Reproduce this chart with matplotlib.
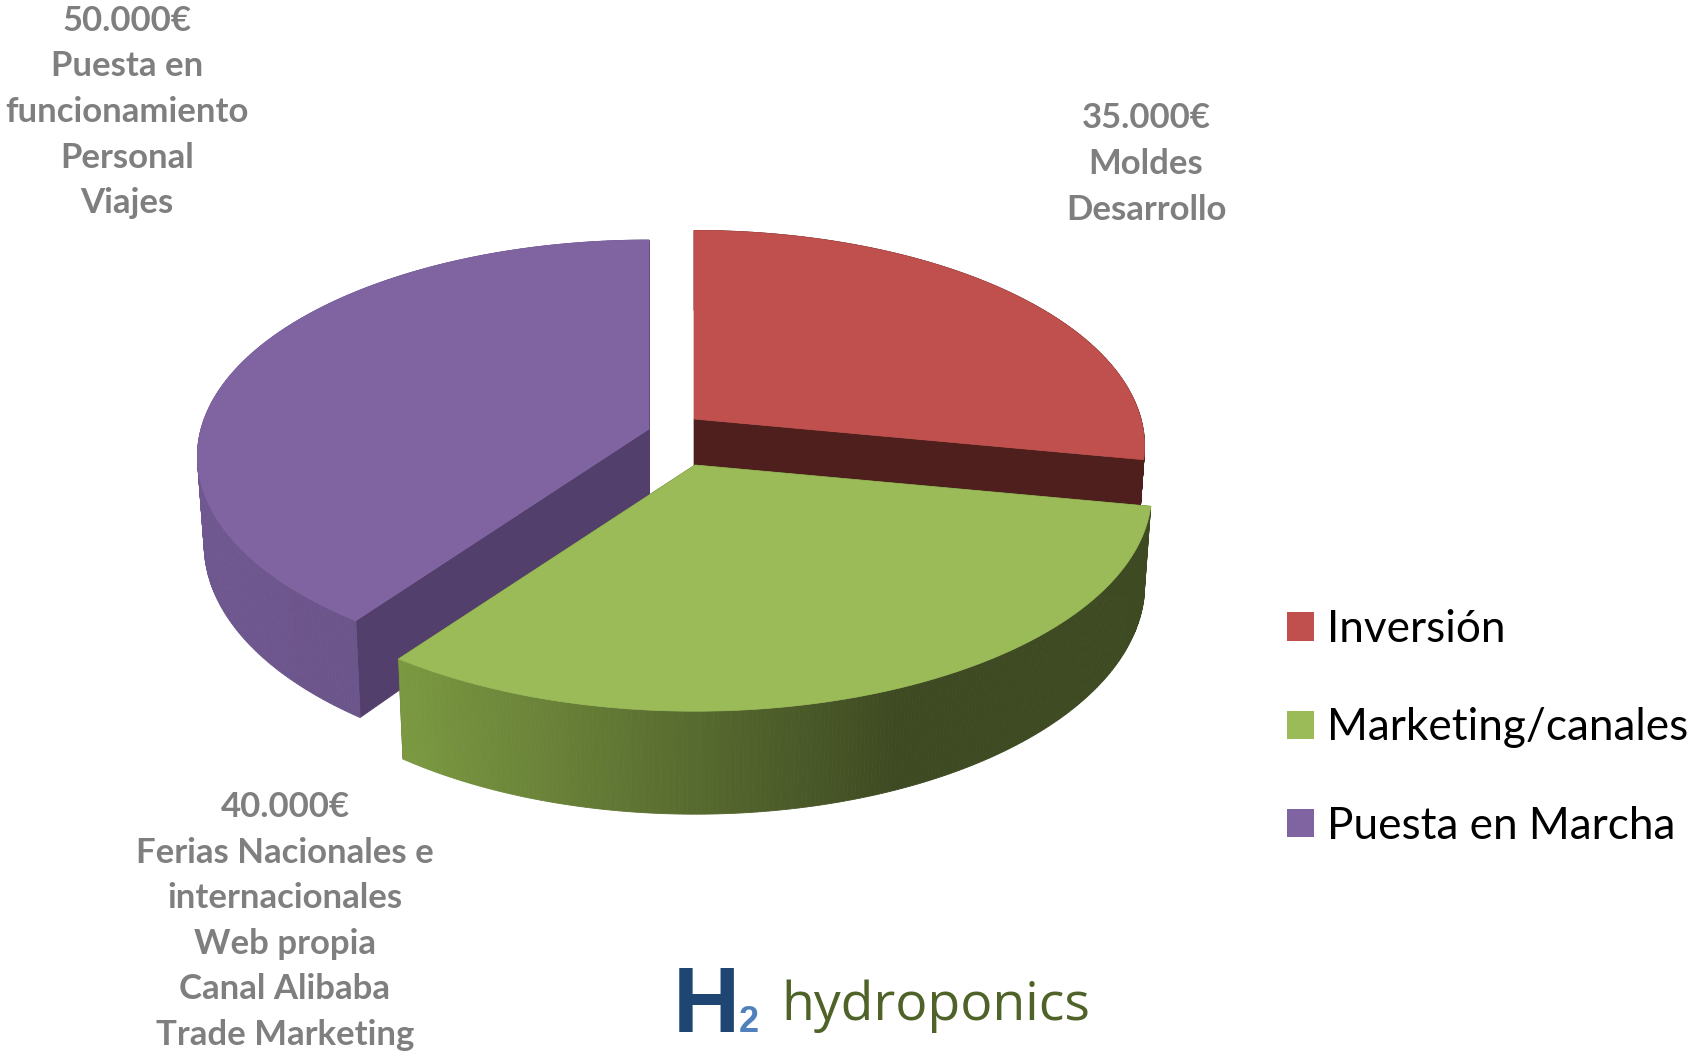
import numpy as np
import matplotlib
matplotlib.use("Agg")
import matplotlib.colors as mcolors
import matplotlib.pyplot as plt
from matplotlib.patches import Patch

categories = ["Inversión", "Marketing/canales", "Puesta en Marcha"]
values = [35000, 40000, 50000]
top_colors = ["#C0504D", "#9BBB59", "#8064A2"]
cut_colors = ["#4F1F1D", "#3E4A22", "#533F6B"]
# wall shading, from the left of the slice to the right
wall_colors = [("#4F1F1D", "#4F1F1D"), ("#7C9A42", "#3E4A22"), ("#6F5790", "#65507F")]

notes = [
    "35.000€\nMoldes\nDesarrollo",
    "40.000€\nFerias Nacionales e\ninternacionales\nWeb propia\nCanal Alibaba\nTrade Marketing",
    "50.000€\nPuesta en\nfuncionamiento\nPersonal\nViajes",
]

# pie geometry in pixels of the 1689x1052 canvas
APEX = [(694, 419), (695, 465), (649, 429)]
RADIUS = [447, 453, 448]
SQUASH = 0.475
PERSP = 0.126
DEPTH = [90, 90, 87]
NOTE_POS = [(1146, 164), (285, 921), (127, 112)]
WALL_DARK_AT = 900  # the green wall stops getting darker here


def project(slice_idx, theta, low=False):
    """theta in radians, clockwise from 12 o'clock. low=True gives the bottom rim."""
    ax0, ay0 = APEX[slice_idx]
    r = RADIUS[slice_idx]
    s = 1 / (1 + PERSP * np.cos(theta))
    x = r * np.sin(theta) * s
    y = -r * SQUASH * np.cos(theta) * s
    if low:
        return ax0 + x * 0.985, ay0 + y + DEPTH[slice_idx] * s
    return ax0 + x, ay0 + y


fig = plt.figure(figsize=(16.89, 10.52), dpi=100, facecolor="white")
ax = fig.add_axes([0, 0, 1, 1])
ax.set_xlim(0, 1689)
ax.set_ylim(1052, 0)
ax.axis("off")

edges = np.cumsum([0] + values) / sum(values) * 2 * np.pi


def draw_slice(i):
    th = np.linspace(edges[i], edges[i + 1], 240)
    x_top, y_top = project(i, th)
    x_low, y_low = project(i, th, low=True)
    ax0, ay0 = APEX[i]

    # cut faces
    for k in (0, -1):
        ax.fill(
            [ax0, x_top[k], x_low[k], ax0],
            [ay0, y_top[k], y_low[k], ay0 + DEPTH[i]],
            color=cut_colors[i],
            lw=0.5,
        )

    # outer wall, thin quads with a left to right colour ramp
    c0 = np.array(mcolors.to_rgb(wall_colors[i][0]))
    c1 = np.array(mcolors.to_rgb(wall_colors[i][1]))
    x_min = x_top.min()
    x_max = min(x_top.max(), WALL_DARK_AT) if i == 1 else x_top.max()
    for j in range(len(th) - 1):
        t = np.clip((x_top[j] - x_min) / (x_max - x_min), 0, 1)
        ax.fill(
            [x_top[j], x_top[j + 1], x_low[j + 1], x_low[j]],
            [y_top[j], y_top[j + 1], y_low[j + 1], y_low[j]],
            color=c0 + (c1 - c0) * t,
            lw=0.6,
        )

    # top face
    ax.fill(
        np.r_[ax0, x_top],
        np.r_[ay0, y_top],
        color=top_colors[i],
        lw=0.5,
    )


# green sits on top of the cut faces of the other two
for i in (0, 2, 1):
    draw_slice(i)

for note, (nx, ny) in zip(notes, NOTE_POS):
    ax.text(
        nx,
        ny,
        note,
        ha="center",
        va="center",
        family="Lato",
        fontweight="bold",
        fontsize=25,
        color="#7F7F7F",
        linespacing=1.52,
    )

handles = [Patch(facecolor=c, edgecolor="none") for c in top_colors]
ax.legend(
    handles,
    categories,
    loc="upper left",
    bbox_to_anchor=(1287 / 1689, 1 - 609 / 1052),
    frameon=False,
    prop={"family": "Lato", "size": 31.8},
    handlelength=0.61,
    handleheight=0.61,
    handletextpad=0.29,
    labelspacing=1.3,
    borderpad=0,
    borderaxespad=0,
    labelcolor="black",
)

# logo
ax.text(673, 1032, "H", family="Liberation Sans", fontweight="bold", fontsize=67, color="#1F4673", va="baseline")
ax.text(739, 1032, "2", family="Liberation Sans", fontweight="bold", fontsize=26, color="#4F81BD", va="baseline")
ax.text(781, 1020, "hydroponics", family="Open Sans", fontsize=38.5, color="#4F6228", va="baseline")

fig.savefig("out.png", dpi=100, facecolor="white")
